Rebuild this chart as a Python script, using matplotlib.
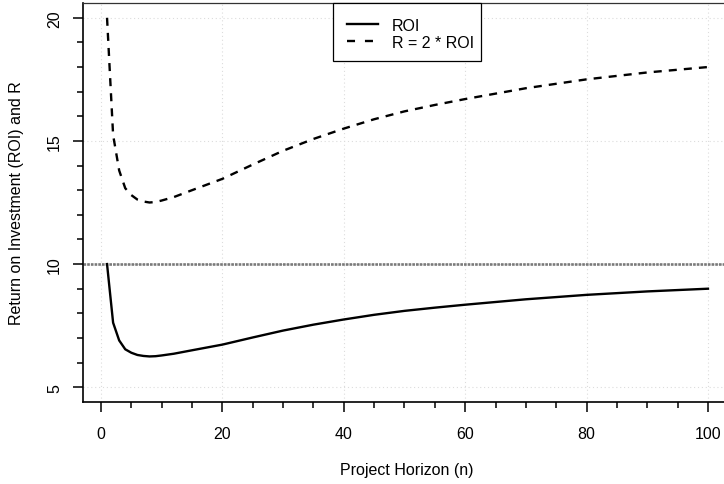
import matplotlib
matplotlib.use("Agg")
import matplotlib.pyplot as plt
from matplotlib.patches import Rectangle

# Data
n_vals = [1, 2, 3, 4, 5, 6, 7, 8, 9, 10, 12, 15, 20, 25, 30, 35, 40, 45, 50,
          55, 60, 70, 80, 90, 100]
roi_vals = [10.0, 7.62, 6.90, 6.54, 6.40, 6.31, 6.27, 6.25, 6.26, 6.29, 6.36,
            6.50, 6.73, 7.02, 7.30, 7.54, 7.75, 7.94, 8.10, 8.23, 8.35, 8.57,
            8.75, 8.89, 9.00]
r_vals = [20.0, 15.24, 13.80, 13.08, 12.80, 12.62, 12.54, 12.50, 12.52, 12.58,
          12.72, 13.00, 13.46, 14.04, 14.60, 15.08, 15.50, 15.88, 16.20, 16.46,
          16.70, 17.14, 17.50, 17.78, 18.00]
ref_level = 10
series_labels = ["ROI", "R = 2 * ROI"]
x_ticks = [0, 20, 40, 60, 80, 100]
y_ticks = [5, 10, 15, 20]

FS = 11.5
W, H = 724, 485
fig = plt.figure(figsize=(W / 100, H / 100), dpi=100)
plt.rcParams['font.family'] = ['Liberation Sans', 'DejaVu Sans']

left, right, top, bottom = 83, 732, 4, 403
ax = fig.add_axes([left / W, 1 - bottom / H, (right - left) / W, (bottom - top) / H])
ax.set_xlim(-2.96, 103.96)
ax.set_ylim(4.4, 20.6)

# grid
for xv in x_ticks:
    ax.axvline(xv, color='#dcdcdc', lw=0.8, ls=(0, (1, 2.5)), zorder=0)
for yv in y_ticks:
    ax.axhline(yv, color='#dcdcdc', lw=0.8, ls=(0, (1, 2.5)), zorder=0)

ax.axhline(ref_level, color='#7a7a7a', lw=1.9, ls=(0, (1, 0.4)), zorder=1)

l1, = ax.plot(n_vals, roi_vals, color='black', lw=1.7, solid_joinstyle='round',
              label=series_labels[0], zorder=3)
l2, = ax.plot(n_vals, r_vals, color='black', lw=1.7, ls=(0, (3.4, 3.0)),
              label=series_labels[1], zorder=3)

ax.set_xticks(x_ticks)
ax.set_xticks(list(range(0, 101, 5)), minor=True)
ax.set_yticks(y_ticks)
ax.set_yticks(list(range(5, 21)), minor=True)
ax.tick_params(which='major', length=7.2, width=1.1, direction='out',
               labelsize=FS, color='black')
ax.tick_params(which='minor', length=4.3, width=1.1, direction='out', color='black')
ax.tick_params(axis='x', which='major', pad=10)
ax.tick_params(axis='y', which='major', pad=7.9)
for lab in ax.get_yticklabels():
    lab.set_rotation(90)
    lab.set_va('center')

for s in ['left', 'bottom']:
    ax.spines[s].set_linewidth(1.2)
ax.spines['top'].set_linewidth(0.9)
ax.spines['top'].set_color('#333333')

fig.text(407 / W, 1 - 471 / H, "Project Horizon (n)", ha='center', va='center', fontsize=FS)
fig.text(17 / W, 1 - 203 / H, "Return on Investment (ROI) and R", ha='center',
         va='center', rotation=90, fontsize=FS)

# legend box (R style) + legend content
box = Rectangle((333 / W, 1 - 62 / H), (481 - 333) / W, (62 - 4) / H,
                transform=fig.transFigure, facecolor='white', edgecolor='black',
                linewidth=0.9, zorder=4, clip_on=False)
ax.add_patch(box)
leg = ax.legend(handles=[l1, l2], loc='upper left',
                bbox_to_anchor=(347 / W, 1 - 19 / H), bbox_transform=fig.transFigure,
                fontsize=FS, frameon=False, handlelength=1.95,
                handletextpad=0.85, borderpad=0, labelspacing=0.12,
                borderaxespad=0)
leg.set_zorder(5)
leg.get_lines()[1].set_linestyle((0, (3.4, 4.2)))

fig.savefig("out.png", dpi=100)
